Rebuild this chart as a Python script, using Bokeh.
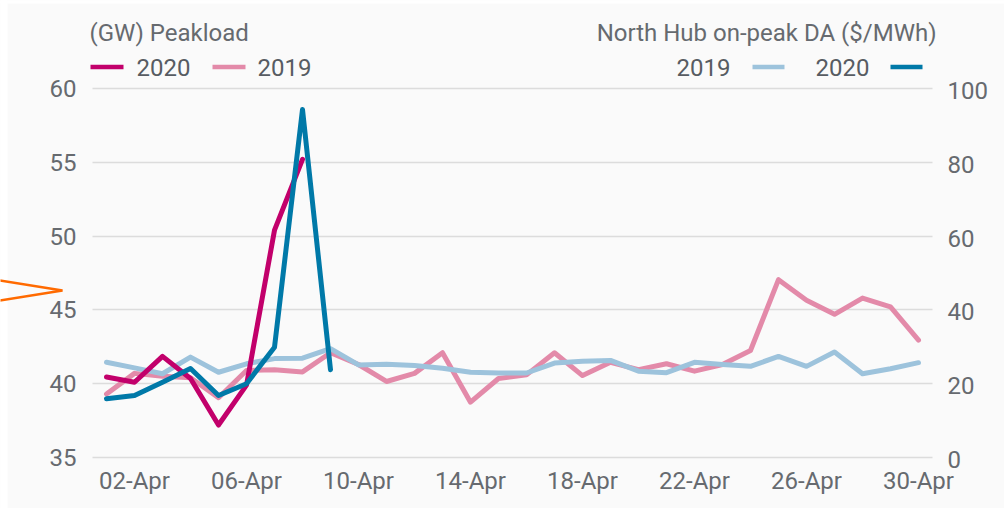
from bokeh.plotting import figure
from bokeh.models import (Range1d, LinearAxis, FixedTicker, Label, PolyAnnotation,
                          BoxAnnotation, ColumnDataSource)
from bokeh.core.properties import value
from bokeh.embed import file_html
from bokeh.resources import INLINE

# ---------------- data ----------------
days = list(range(1, 31))
x_tick_days = [2, 6, 10, 14, 18, 22, 26, 30]
x_tick_labels = ["02-Apr", "06-Apr", "10-Apr", "14-Apr", "18-Apr", "22-Apr", "26-Apr", "30-Apr"]

peak_2020_days = [1, 2, 3, 4, 5, 6, 7, 8]
peak_2020 = [40.45, 40.1, 41.85, 40.35, 37.2, 39.9, 50.4, 55.2]

price_2020_days = [1, 2, 3, 4, 5, 6, 7, 8, 9]
price_2020 = [15.9, 16.8, 20.4, 24.1, 16.8, 20.0, 29.9, 94.3, 23.8]

peak_2019 = [39.3, 40.7, 40.5, 40.4, 39.05, 40.9, 40.95, 40.8, 42.1, 41.3,
             40.15, 40.7, 42.1, 38.75, 40.35, 40.6, 42.1, 40.55, 41.45, 40.95,
             41.35, 40.85, 41.3, 42.25, 47.05, 45.65, 44.7, 45.8, 45.2, 42.95]

price_2019 = [25.8, 24.3, 22.7, 27.2, 23.1, 25.4, 26.8, 26.9, 29.5, 25.1,
              25.3, 24.95, 24.2, 23.1, 22.9, 22.9, 25.6, 26.1, 26.3, 23.4,
              23.0, 25.8, 25.2, 24.7, 27.4, 24.7, 28.6, 22.7, 24.05, 25.7]

left_ticks = [35, 40, 45, 50, 55, 60]
right_ticks = [0, 20, 40, 60, 80, 100]
right_tick_labels = ["0", "20", "40", "60", "80", "100"]

# ---------------- style / layout ----------------
C_PEAK20 = "#c2006b"
C_PEAK19 = "#e38aa9"
C_PRICE19 = "#9dc3dc"
C_PRICE20 = "#0079a8"
BG = "#fafafa"
TXT = "#666a6f"
TXT2 = "#575c62"
FONT = "Roboto"
FS = "24px"

W, H = 1004, 508
DX0, DX1 = 0.5, 30.5          # plotted day span
GY0, GY1 = 35, 60             # plotted GW span
PY0, PY1 = 0, 100             # plotted price span
FL, FR, FT, FB = 92, 932, 88, 457   # pixel box of that span

sx = (FR - FL) / (DX1 - DX0)
sy = (FB - FT) / (GY1 - GY0)
XS, XE = DX0 - FL / sx, DX0 + (W - FL) / sx
YS, YE = GY0 - (H - FB) / sy, GY0 + FB / sy
k = (PY1 - PY0) / (GY1 - GY0)
RS, RE = PY0 + (YS - GY0) * k, PY0 + (YE - GY0) * k

p = figure(width=W, height=H, output_backend="svg", toolbar_location=None,
           x_range=Range1d(XS, XE), y_range=Range1d(YS, YE), min_border=0)
p.background_fill_color = BG
p.border_fill_color = BG
p.outline_line_color = None
p.extra_y_ranges = {"price": Range1d(RS, RE)}

p.xgrid.grid_line_color = None
p.ygrid.grid_line_color = "#dcdcdc"
p.ygrid.grid_line_width = 1.5
p.ygrid.ticker = FixedTicker(ticks=left_ticks)
p.ygrid[0].cross_bounds = (DX0, DX1)

p.yaxis.ticker = FixedTicker(ticks=left_ticks)
p.yaxis.fixed_location = DX0
p.xaxis.ticker = FixedTicker(ticks=x_tick_days)
p.xaxis.fixed_location = GY0
p.xaxis.major_label_overrides = {d: l for d, l in zip(x_tick_days, x_tick_labels)}

for ax in [p.xaxis[0], p.yaxis[0]]:
    ax.axis_line_color = None
    ax.major_tick_line_color = None
    ax.minor_tick_line_color = None
    ax.major_label_text_font = FONT
    ax.major_label_text_font_size = FS
    ax.major_label_text_color = TXT
p.yaxis.major_label_standoff = 10
p.xaxis.major_label_standoff = 3

# right-hand price scale: left-aligned labels placed through the price range
def px2x(px):
    return XS + px / sx

def py2y(py):
    return YE - py / sy

rsrc = ColumnDataSource(dict(x=[px2x(947)] * len(right_ticks), y=right_ticks,
                             t=right_tick_labels))
p.text(x="x", y="y", text="t", source=rsrc, y_range_name="price",
       text_align="left", text_baseline="middle", y_offset=2,
       text_font=value(FONT), text_font_size=FS, text_color=TXT)

lw = 5
p.line(days, peak_2019, color=C_PEAK19, line_width=lw, line_join="round", line_cap="round")
p.line(days, price_2019, color=C_PRICE19, line_width=lw, line_join="round", line_cap="round",
       y_range_name="price")
p.line(peak_2020_days, peak_2020, color=C_PEAK20, line_width=lw, line_join="round", line_cap="round")
p.line(price_2020_days, price_2020, color=C_PRICE20, line_width=lw, line_join="round", line_cap="round",
       y_range_name="price")

# ---------------- annotations (page pixel -> data) ----------------
def label(text, px, py, align, color):
    p.add_layout(Label(x=px2x(px), y=py2y(py), text=text, text_align=align,
                       text_baseline="middle", text_font=FONT, text_font_size=FS,
                       text_color=color))

def swatch(px0, px1, py, color):
    p.add_layout(BoxAnnotation(left=px2x(px0), right=px2x(px1),
                               top=py2y(py - 2.3), bottom=py2y(py + 2.3),
                               fill_color=color, fill_alpha=1, line_color=None))

# white page strips (left / top) as in the reference
p.add_layout(BoxAnnotation(left=px2x(-5), right=px2x(7), top=py2y(-5), bottom=py2y(H + 5),
                           fill_color="white", fill_alpha=1, line_color=None))
p.add_layout(BoxAnnotation(left=px2x(-5), right=px2x(W + 5), top=py2y(-5), bottom=py2y(3),
                           fill_color="white", fill_alpha=1, line_color=None))

label("(GW) Peakload", 89, 32, "left", TXT)
swatch(90, 123, 66.5, C_PEAK20)
label("2020", 136, 67, "left", TXT2)
swatch(212, 245, 66.5, C_PEAK19)
label("2019", 257, 67, "left", TXT2)

label("North Hub on-peak DA ($/MWh)", 936, 32, "right", TXT)
label("2019", 676, 67, "left", TXT2)
swatch(752, 784, 66.5, C_PRICE19)
label("2020", 815, 67, "left", TXT2)
swatch(890, 922, 66.5, C_PRICE20)

# orange pointer on the left
ax_ = [-10, 62, -10]
ay_ = [290 - 72 * 10 / 62, 290, 290 + 72 * 10 / 62]
p.add_layout(PolyAnnotation(xs=[px2x(v) for v in ax_], ys=[py2y(v) for v in ay_],
                            fill_alpha=0, line_color="#ff6a00", line_alpha=1, line_width=2.5))

open("out.html", "w").write(file_html(p, INLINE))
